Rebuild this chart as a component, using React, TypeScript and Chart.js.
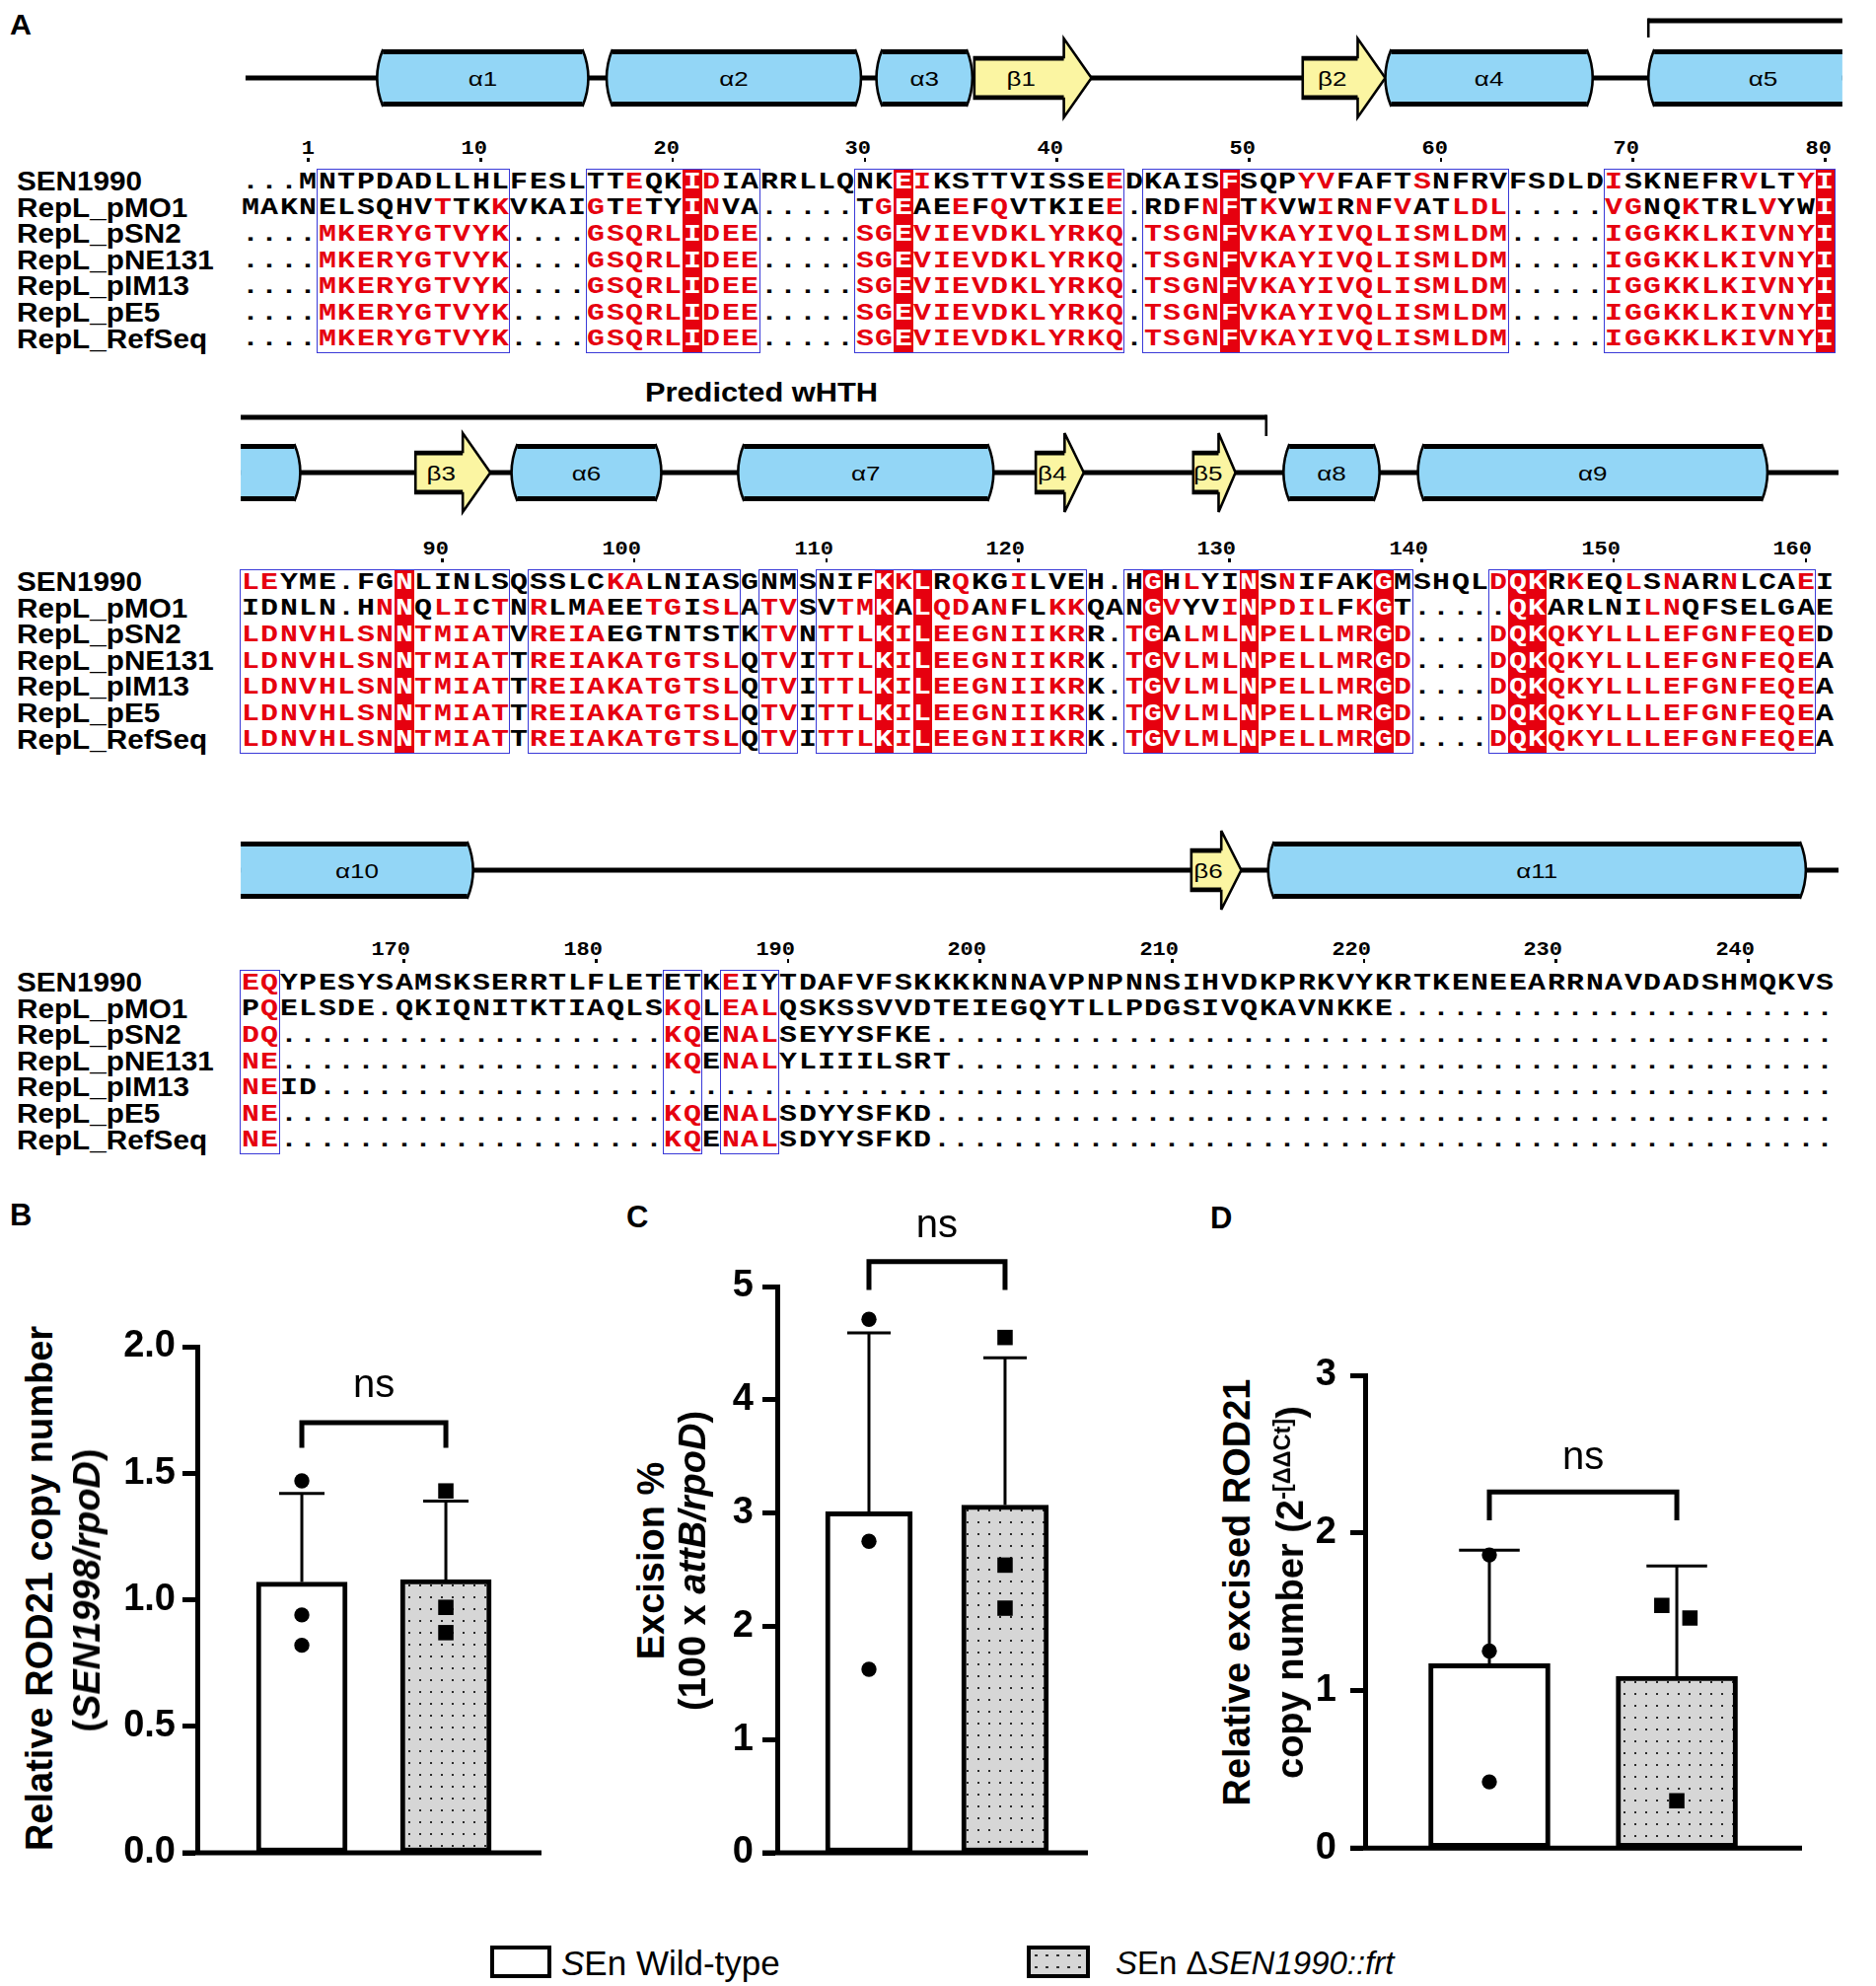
import React, { useEffect, useRef } from "react";
import { Chart, registerables } from "chart.js";

Chart.register(...registerables);

/* ======================= Panel A : alignment data ======================= */
const SEQ_NAMES = ["SEN1990", "RepL_pMO1", "RepL_pSN2", "RepL_pNE131", "RepL_pIM13", "RepL_pE5", "RepL_RefSeq"];

const BLOCK1_SEQS = [
  "...MNTPDADLLHLFESLTTEQKIDIARRLLQNKEIKSTTVISSEEDKAISFSQPYVFAFTSNFRVFSDLDISKNEFRVLTYI",
  "MAKNELSQHVTTKKVKAIGTETYINVA.....TGEAEEFQVTKIEE.RDFNFTKVWIRNFVATLDL.....VGNQKTRLVYWI",
  "....MKERYGTVYK....GSQRLIDEE.....SGEVIEVDKLYRKQ.TSGNFVKAYIVQLISMLDM.....IGGKKLKIVNYI",
  "....MKERYGTVYK....GSQRLIDEE.....SGEVIEVDKLYRKQ.TSGNFVKAYIVQLISMLDM.....IGGKKLKIVNYI",
  "....MKERYGTVYK....GSQRLIDEE.....SGEVIEVDKLYRKQ.TSGNFVKAYIVQLISMLDM.....IGGKKLKIVNYI",
  "....MKERYGTVYK....GSQRLIDEE.....SGEVIEVDKLYRKQ.TSGNFVKAYIVQLISMLDM.....IGGKKLKIVNYI",
  "....MKERYGTVYK....GSQRLIDEE.....SGEVIEVDKLYRKQ.TSGNFVKAYIVQLISMLDM.....IGGKKLKIVNYI",
];
const BLOCK1_BOXES = [[4, 13], [18, 26], [32, 45], [47, 65], [71, 82]];
const BLOCK1_HIGHLIGHT = [23, 34, 51, 82];
const BLOCK1_RED = [
  [20, 24, 35, 45, 55, 56, 61, 71, 78, 81],
  [10, 13, 18, 20, 24, 33, 37, 39, 45, 50, 53, 56, 58, 60, 63, 64, 65, 71, 72, 75, 79],
  null, null, null, null, null,
];
const BLOCK1_BOX_BLACK = [[], [], [], [], [], [], []];
const BLOCK1_SS = [
  ["H", "α1", 7.1, 18.1],
  ["H", "α2", 19.05, 32.3],
  ["H", "α3", 33.1, 38.1],
  ["E", "β1", 38.2, 44.3],
  ["E", "β2", 55.3, 59.6],
  ["H", "α4", 59.6, 70.4],
  ["H", "α5", 73.3, 83.4],
];
const BLOCK1_LINE = [0.25, 83.4];

const BLOCK2_SEQS = [
  "LEYME.FGNLINLSQSSLCKALNIASGNMSNIFKKLRQKGILVEH.HGHLYINSNIFAKGMSHQLDQKRKEQLSNARNLCAEI",
  "IDNLN.HNNQLICTNRLMAEETGISLATVSVTMKALQDANFLKKQANGVYVINPDILFKGT.....QKARLNILNQFSELGAE",
  "LDNVHLSNNTMIATVREIAEGTNTSTKTVNTTLKILEEGNIIKRR.TGALMLNPELLMRGD....DQKQKYLLLEFGNFEQED",
  "LDNVHLSNNTMIATTREIAKATGTSLQTVITTLKILEEGNIIKRK.TGVLMLNPELLMRGD....DQKQKYLLLEFGNFEQEA",
  "LDNVHLSNNTMIATTREIAKATGTSLQTVITTLKILEEGNIIKRK.TGVLMLNPELLMRGD....DQKQKYLLLEFGNFEQEA",
  "LDNVHLSNNTMIATTREIAKATGTSLQTVITTLKILEEGNIIKRK.TGVLMLNPELLMRGD....DQKQKYLLLEFGNFEQEA",
  "LDNVHLSNNTMIATTREIAKATGTSLQTVITTLKILEEGNIIKRK.TGVLMLNPELLMRGD....DQKQKYLLLEFGNFEQEA",
];
const BLOCK2_BOXES = [[0, 13], [15, 25], [27, 28], [30, 43], [46, 60], [65, 81]];
const BLOCK2_HIGHLIGHT = [8, 33, 35, 47, 52, 59, 66, 67];
const BLOCK2_RED = [
  [0, 1, 19, 20, 34, 37, 40, 49, 54, 65, 69, 72, 74, 77, 81],
  [7, 10, 11, 13, 15, 18, 21, 22, 24, 25, 27, 28, 31, 32, 36, 37, 39, 42, 43, 48, 51, 53, 54, 55, 56, 58, 73, 74],
  null, null, null, null, null,
];
const BLOCK2_BOX_BLACK = [[], [], [19, 20, 21, 22, 23, 24, 25, 48], [], [], [], []];
const BLOCK2_SS = [
  ["H", "", 0, 3.1],
  ["E", "β3", 9.1, 13.0],
  ["H", "α6", 14.1, 21.9],
  ["H", "α7", 25.9, 39.2],
  ["E", "β4", 41.4, 43.9],
  ["E", "β5", 49.6, 51.8],
  ["H", "α8", 54.3, 59.3],
  ["H", "α9", 61.3, 79.5],
];
const BLOCK2_LINE = [0, 83.2];

const BLOCK3_SEQS = [
  "EQYPESYSAMSKSERRTLFLETETKEIYTDAFVFSKKKKNNAVPNPNNSIHVDKPRKVYKRTKENEEARRNAVDADSHMQKVS",
  "PQELSDE.QKIQNITKTIAQLSKQLEALQSKSSVVDTEIEGQYTLLPDGSIVQKAVNKKE".padEnd(83, "."),
  "DQ....................KQENALSEYYSFKE".padEnd(83, "."),
  "NE....................KQENALYLIIILSRT".padEnd(83, "."),
  "NEID".padEnd(83, "."),
  "NE....................KQENALSDYYSFKD".padEnd(83, "."),
  "NE....................KQENALSDYYSFKD".padEnd(83, "."),
];
const BLOCK3_BOXES = [[0, 1], [22, 23], [25, 27]];
const BLOCK3_HIGHLIGHT: number[] = [];
const BLOCK3_RED = [[0, 1, 25], [1, 22, 23, 25, 26, 27], null, null, null, null, null];
const BLOCK3_BOX_BLACK = [[], [], [], [], [], [], []];
const BLOCK3_SS = [
  ["H", "α10", 0, 12.1],
  ["E", "β6", 49.5, 52.1],
  ["H", "α11", 53.5, 81.5],
];
const BLOCK3_LINE = [0, 83.2];

const WHTH_LABEL = "Predicted wHTH";
const WHTH_SPAN = [[0, 73.3], [1, 53.4]]; // [block, column edge] start / end

const BLOCKS = [
  { seqs: BLOCK1_SEQS, boxes: BLOCK1_BOXES, hl: BLOCK1_HIGHLIGHT, red: BLOCK1_RED, black: BLOCK1_BOX_BLACK, ss: BLOCK1_SS, line: BLOCK1_LINE },
  { seqs: BLOCK2_SEQS, boxes: BLOCK2_BOXES, hl: BLOCK2_HIGHLIGHT, red: BLOCK2_RED, black: BLOCK2_BOX_BLACK, ss: BLOCK2_SS, line: BLOCK2_LINE },
  { seqs: BLOCK3_SEQS, boxes: BLOCK3_BOXES, hl: BLOCK3_HIGHLIGHT, red: BLOCK3_RED, black: BLOCK3_BOX_BLACK, ss: BLOCK3_SS, line: BLOCK3_LINE },
];

/* ======================= Panels B-D data ======================= */
const GROUP_X = [1, 2];
const LEGEND_WT = "Wild-type";
const LEGEND_KO = "SEN1990::frt";

const B_MEAN = [1.07, 1.08];
const B_SD = [0.35, 0.31];
const B_WT = [1.47, 0.94, 0.82];
const B_KO = [1.43, 0.97, 0.87];
const B_NS = [1.70, 1.60, 1.84];

const C_MEAN = [3.01, 3.07];
const C_SD = [1.58, 1.30];
const C_WT = [4.71, 2.75, 1.62];
const C_KO = [4.55, 2.54, 2.16];
const C_NS = [5.22, 4.97, 5.52];

const D_MEAN = [1.17, 1.09];
const D_SD = [0.72, 0.70];
const D_WT = [1.86, 1.25, 0.42];
const D_KO = [1.54, 1.46, 0.30];
const D_KO_X = [1.92, 2.07, 2.0];
const D_NS = [2.26, 2.08, 2.47];

/* ======================= styling / layout ======================= */
const RED = "#e6000f";
const BLUE = "#3a3ad8";
const HELIX = "#93d6f6";
const STRAND = "#fbf5a2";
const CW = 19.47;
const COL0 = 244.07;
const ROW_H = 26.6;
const BLOCK_Y = [185, 591, 997];
const STRUCT_Y = [79, 479, 882];
const SEQ_FONT = '700 23px "Liberation Mono", "DejaVu Sans Mono", monospace';
const SEQ_SX = 1.3;
const RULER_FONT = '700 20px "Liberation Mono", "DejaVu Sans Mono", monospace';
const RULER_SX = 1.1;
const NAME_FONT = '700 27px "Liberation Sans", Arial, sans-serif';
const NAME_SX = 1.1;
const SANS = '"Liberation Sans", Arial, Helvetica, sans-serif';
const colL = (c: number) => COL0 + c * CW;

function Alignment() {
  const out: any[] = [];
  let res = 1;
  const digitHalf = (0.6 * 20 * RULER_SX) / 2;
  BLOCKS.forEach((b: any, bi: number) => {
    const y0 = BLOCK_Y[bi];
    const last = y0 + (b.seqs.length - 1) * ROW_H;
    const bt = y0 - 14;
    const bb = last + 13;
    b.hl.forEach((c: number) =>
      out.push(
        <div key={`h${bi}-${c}`} style={{ position: "absolute", left: colL(c), top: bt, width: CW + 0.4, height: bb - bt, background: RED }} />
      )
    );
    b.boxes.forEach(([c0, c1]: number[], k: number) =>
      out.push(
        <div
          key={`b${bi}-${k}`}
          style={{ position: "absolute", left: colL(c0) - 0.8, top: bt, width: (c1 - c0 + 1) * CW + 1.6, height: bb - bt, border: `1.6px solid ${BLUE}`, boxSizing: "border-box" }}
        />
      )
    );
    // ruler (numbering of the first sequence)
    const sen = b.seqs[0];
    for (let c = 0; c < sen.length; c++) {
      if (sen[c] === ".") continue;
      if (res === 1 || res % 10 === 0) {
        const xc = colL(c) + CW / 2;
        out.push(
          <div
            key={`n${bi}-${c}`}
            style={{ position: "absolute", left: xc + digitHalf - 100, width: 100, top: y0 - 46, height: 24, lineHeight: "24px", textAlign: "right", font: RULER_FONT, transform: `scaleX(${RULER_SX})`, transformOrigin: "right center", whiteSpace: "nowrap" }}
          >
            {res}
          </div>
        );
        out.push(<div key={`t${bi}-${c}`} style={{ position: "absolute", left: xc - 1.3, top: y0 - 25, width: 2.6, height: 4, background: "#000" }} />);
      }
      res++;
    }
    b.seqs.forEach((s: string, r: number) => {
      const y = y0 + r * ROW_H;
      out.push(
        <div
          key={`nm${bi}-${r}`}
          style={{ position: "absolute", left: 17, top: y - 16, height: 32, lineHeight: "32px", font: NAME_FONT, transform: `scaleX(${NAME_SX})`, transformOrigin: "left center", whiteSpace: "nowrap" }}
        >
          {SEQ_NAMES[r]}
        </div>
      );
      for (let c = 0; c < s.length; c++) {
        const ch = s[c];
        const hl = ch !== "." && b.hl.includes(c);
        let red = false;
        if (ch !== ".") {
          const spec = b.red[r];
          if (spec) red = spec.includes(c);
          else red = b.boxes.some(([a, z]: number[]) => c >= a && c <= z) && !b.black[r].includes(c);
        }
        out.push(
          <div
            key={`c${bi}-${r}-${c}`}
            style={{ position: "absolute", left: colL(c), top: y - ROW_H / 2, width: CW, height: ROW_H, lineHeight: `${ROW_H}px`, textAlign: "center", font: SEQ_FONT, color: hl ? "#fff" : red ? RED : "#000" }}
          >
            <span style={{ display: "inline-block", transform: `scaleX(${SEQ_SX})` }}>{ch}</span>
          </div>
        );
      }
    });
  });
  return <>{out}</>;
}

function Structure() {
  const els: any[] = [];
  BLOCKS.forEach((b: any, bi: number) => {
    const cy = STRUCT_Y[bi];
    els.push(<line key={`ln${bi}`} x1={colL(b.line[0])} x2={colL(b.line[1])} y1={cy} y2={cy} stroke="#000" strokeWidth={5} />);
    b.ss.forEach(([t, lab, s, e]: any[], k: number) => {
      const x1 = colL(s);
      const x2 = colL(e);
      const cutL = s <= 0;
      const cutR = e >= 83;
      const key = `ss${bi}-${k}`;
      if (t === "H") {
        const top = cy - 29;
        const bot = cy + 29;
        const r = 6;
        const a = cutL ? x1 : x1 + r;
        const z = cutR ? x2 : x2 - r;
        let d = `M${a},${top} L${z},${top} `;
        d += cutR ? `L${z},${bot} ` : `Q${x2 + r},${cy} ${z},${bot} `;
        d += `L${a},${bot} `;
        d += cutL ? "Z" : `Q${x1 - r},${cy} ${a},${top} Z`;
        els.push(<path key={key + "f"} d={d} fill={HELIX} stroke="none" />);
        if (!cutR) els.push(<path key={key + "r"} d={`M${z},${top} Q${x2 + r},${cy} ${z},${bot}`} fill="none" stroke="#000" strokeWidth={2.6} />);
        if (!cutL) els.push(<path key={key + "l"} d={`M${a},${top} Q${x1 - r},${cy} ${a},${bot}`} fill="none" stroke="#000" strokeWidth={2.6} />);
        els.push(<line key={key + "t"} x1={a} x2={z} y1={top + 2.5} y2={top + 2.5} stroke="#000" strokeWidth={5} />);
        els.push(<line key={key + "b"} x1={a} x2={z} y1={bot - 2.5} y2={bot - 2.5} stroke="#000" strokeWidth={5} />);
        if (lab)
          els.push(
            <text key={key + "x"} x={0} y={0} transform={`translate(${cutR ? (x1 + x2) / 2 + 18 : (x1 + x2) / 2},${cy + 1}) scale(1.3,1)`} textAnchor="middle" dominantBaseline="central" fontSize={20} fontFamily={SANS}>
              {lab}
            </text>
          );
      } else {
        const hlen = Math.min(28, (x2 - x1) * 0.4);
        const hb = x2 - hlen;
        const pts = `${x1},${cy - 21} ${hb},${cy - 21} ${hb},${cy - 40} ${x2},${cy} ${hb},${cy + 40} ${hb},${cy + 21} ${x1},${cy + 21}`;
        els.push(<polygon key={key + "p"} points={pts} fill={STRAND} stroke="#000" strokeWidth={2.6} strokeLinejoin="miter" />);
        els.push(<line key={key + "t"} x1={x1} x2={hb} y1={cy - 19.5} y2={cy - 19.5} stroke="#000" strokeWidth={4} />);
        els.push(<line key={key + "b"} x1={x1} x2={hb} y1={cy + 19.5} y2={cy + 19.5} stroke="#000" strokeWidth={4} />);
        els.push(
          <text key={key + "x"} x={0} y={0} transform={`translate(${(x1 + hb) / 2 + 2},${cy + 1}) scale(1.3,1)`} textAnchor="middle" dominantBaseline="central" fontSize={20} fontFamily={SANS}>
            {lab}
          </text>
        );
      }
    });
  });
  // predicted wHTH bracket
  const [sb, sc] = WHTH_SPAN[0];
  const [eb, ec] = WHTH_SPAN[1];
  const ys = STRUCT_Y[sb] - 58;
  const ye = STRUCT_Y[eb] - 56;
  els.push(<line key="w1" x1={colL(sc)} x2={colL(BLOCK1_LINE[1])} y1={ys} y2={ys} stroke="#000" strokeWidth={5} />);
  els.push(<line key="w2" x1={colL(sc)} x2={colL(sc)} y1={ys - 2.5} y2={ys + 17} stroke="#000" strokeWidth={2.6} />);
  els.push(<line key="w3" x1={colL(0)} x2={colL(ec)} y1={ye} y2={ye} stroke="#000" strokeWidth={5} />);
  els.push(<line key="w4" x1={colL(ec)} x2={colL(ec)} y1={ye - 2.5} y2={ye + 19} stroke="#000" strokeWidth={2.6} />);
  els.push(
    <text key="w5" x={0} y={0} transform={`translate(772,${ye - 26}) scale(1.1,1)`} textAnchor="middle" dominantBaseline="central" fontSize={28} fontWeight={700} fontFamily={SANS}>
      {WHTH_LABEL}
    </text>
  );
  return (
    <svg width={1902} height={940} style={{ position: "absolute", left: 0, top: 0 }}>
      {els}
    </svg>
  );
}

/* ======================= Bar panels ======================= */
function makeDots() {
  const c = document.createElement("canvas");
  c.width = 11;
  c.height = 12;
  const g = c.getContext("2d")!;
  g.fillStyle = "#d6d6d6";
  g.fillRect(0, 0, 11, 12);
  g.fillStyle = "#2a2a2a";
  g.fillRect(5, 6, 2, 2);
  return g.createPattern(c, "repeat");
}

const PANELS = [
  { key: "B", mean: B_MEAN, sd: B_SD, wt: B_WT, ko: B_KO, koX: null, ns: B_NS, yMax: 2, step: 0.5, dec: 1,
    g: { cx: 90, cy: 1300, cw: 480, ch: 610, left: 200, right: 549, top: 1365, bottom: 1878, xMin: 0.274, xMax: 2.664, barW: 92, pad: 7 } },
  { key: "C", mean: C_MEAN, sd: C_SD, wt: C_WT, ko: C_KO, koX: null, ns: C_NS, yMax: 5, step: 1, dec: 0,
    g: { cx: 700, cy: 1200, cw: 420, ch: 710, left: 788, right: 1103, top: 1304, bottom: 1878, xMin: 0.326, xMax: 2.609, barW: 88, pad: 9 } },
  { key: "D", mean: D_MEAN, sd: D_SD, wt: D_WT, ko: D_KO, koX: D_KO_X, ns: D_NS, yMax: 3, step: 1, dec: 0,
    g: { cx: 1300, cy: 1350, cw: 550, ch: 560, left: 1384, right: 1827, top: 1394, bottom: 1878, xMin: 0.337, xMax: 2.668, barW: 123, pad: 14 } },
];

const TICK_LEN = 15;

function BarPanel({ p }: any) {
  const ref = useRef<HTMLCanvasElement>(null);
  const g = p.g;
  useEffect(() => {
    const canvas = ref.current!;
    const pattern = makeDots();
    const deco = {
      id: "deco" + p.key,
      afterDatasetDraw(chart: any, args: any) {
        if (args.index !== 0) return;
        const { ctx } = chart;
        const x = chart.scales.x;
        const y = chart.scales.y;
        ctx.save();
        ctx.strokeStyle = "#000";
        ctx.lineWidth = 3;
        p.mean.forEach((m: number, i: number) => {
          const px = x.getPixelForValue(GROUP_X[i]);
          const y0 = y.getPixelForValue(m);
          const y1 = y.getPixelForValue(m + p.sd[i]);
          const half = g.barW / 4;
          ctx.beginPath();
          ctx.moveTo(px, y0);
          ctx.lineTo(px, y1);
          ctx.moveTo(px - half, y1);
          ctx.lineTo(px + half, y1);
          ctx.stroke();
        });
        ctx.restore();
      },
      afterDraw(chart: any) {
        const { ctx, chartArea } = chart;
        const x = chart.scales.x;
        const y = chart.scales.y;
        ctx.save();
        ctx.strokeStyle = "#000";
        ctx.lineWidth = 5;
        ctx.beginPath();
        ctx.moveTo(chartArea.left - TICK_LEN, chartArea.bottom);
        ctx.lineTo(chartArea.right, chartArea.bottom);
        ctx.stroke();
        const x1 = x.getPixelForValue(GROUP_X[0]);
        const x2 = x.getPixelForValue(GROUP_X[1]);
        const yb = y.getPixelForValue(p.ns[0]);
        const yl = y.getPixelForValue(p.ns[1]);
        const yt = y.getPixelForValue(p.ns[2]);
        ctx.lineWidth = 5;
        ctx.lineJoin = "miter";
        ctx.beginPath();
        ctx.moveTo(x1, yl);
        ctx.lineTo(x1, yb);
        ctx.lineTo(x2, yb);
        ctx.lineTo(x2, yl);
        ctx.stroke();
        ctx.fillStyle = "#000";
        ctx.font = `40px ${SANS}`;
        ctx.textAlign = "center";
        ctx.textBaseline = "alphabetic";
        ctx.fillText("ns", (x1 + x2) / 2, yt + 10);
        ctx.restore();
      },
    };
    const chart = new Chart(canvas, {
      type: "bar",
      data: {
        datasets: [
          {
            type: "bar",
            data: GROUP_X.map((gx, i) => ({ x: gx, y: p.mean[i] })),
            backgroundColor: ["#ffffff", pattern as any],
            borderColor: "#000",
            borderWidth: 5,
            borderSkipped: false,
            barThickness: g.barW,
            order: 3,
          } as any,
          {
            type: "scatter",
            data: p.wt.map((v: number) => ({ x: GROUP_X[0], y: v })),
            pointStyle: "circle",
            pointRadius: 7.7,
            backgroundColor: "#000",
            borderColor: "#000",
            borderWidth: 0,
            order: 1,
          } as any,
          {
            type: "scatter",
            data: p.ko.map((v: number, i: number) => ({ x: p.koX ? p.koX[i] : GROUP_X[1], y: v })),
            pointStyle: "rect",
            pointRadius: 11,
            backgroundColor: "#000",
            borderColor: "#000",
            borderWidth: 0,
            order: 1,
          } as any,
        ],
      },
      options: {
        responsive: false,
        animation: false,
        devicePixelRatio: 1,
        events: [],
        layout: {
          autoPadding: false,
          padding: { left: 0, right: g.cx + g.cw - g.right, top: g.top - g.cy, bottom: g.cy + g.ch - g.bottom },
        },
        plugins: { legend: { display: false }, tooltip: { enabled: false }, title: { display: false } },
        scales: {
          x: {
            type: "linear",
            min: g.xMin,
            max: g.xMax,
            offset: false,
            grid: { display: false },
            ticks: { display: false },
            border: { display: false },
            afterFit: (s: any) => { s.height = 0; },
          },
          y: {
            type: "linear",
            min: 0,
            max: p.yMax,
            ticks: {
              stepSize: p.step,
              color: "#000",
              padding: g.pad,
              font: { family: SANS, size: 38, weight: "bold" },
              callback: (v: any) => Number(v).toFixed(p.dec),
            },
            grid: { display: true, drawOnChartArea: false, drawTicks: true, tickLength: TICK_LEN, tickWidth: 5, tickColor: "#000" },
            border: { display: true, color: "#000", width: 5 },
            afterFit: (s: any) => { s.width = g.left - g.cx; },
          },
        },
      } as any,
      plugins: [deco],
    });
    return () => chart.destroy();
  }, []);
  return (
    <canvas
      ref={ref}
      width={g.cw}
      height={g.ch}
      style={{ position: "absolute", left: g.cx, top: g.cy, width: g.cw, height: g.ch }}
    />
  );
}

function VTitle({ x, y, children }: any) {
  return (
    <div
      style={{
        position: "absolute",
        left: x,
        top: y,
        transform: "translate(-50%,-50%) rotate(-90deg)",
        whiteSpace: "nowrap",
        font: `700 38px ${SANS}`,
        lineHeight: "42px",
        color: "#000",
      }}
    >
      {children}
    </div>
  );
}

function Letter({ x, y, size, sx, children }: any) {
  return (
    <div
      style={{
        position: "absolute",
        left: x,
        top: y,
        font: `700 ${size}px ${SANS}`,
        lineHeight: 1,
        transform: `scaleX(${sx || 1})`,
        transformOrigin: "left top",
      }}
    >
      {children}
    </div>
  );
}

export default function App() {
  return (
    <div
      style={{
        position: "absolute",
        left: 0,
        top: 0,
        width: 1902,
        height: 2013,
        background: "#fff",
        overflow: "hidden",
        fontFamily: SANS,
        color: "#000",
      }}
    >
      <Letter x={10} y={11} size={29} sx={1.05}>A</Letter>
      <Structure />
      <Alignment />

      {PANELS.map((p) => (
        <BarPanel key={p.key} p={p} />
      ))}

      <Letter x={10} y={1216} size={31}>B</Letter>
      <Letter x={635} y={1218} size={31}>C</Letter>
      <Letter x={1227} y={1219} size={31}>D</Letter>

      <VTitle x={40} y={1610}>Relative ROD21 copy number</VTitle>
      <VTitle x={88} y={1612}>
        (<i>SEN1998/rpoD</i>)
      </VTitle>

      <VTitle x={660} y={1582}>Excision %</VTitle>
      <VTitle x={702} y={1582}>
        (100 x <i>attB/rpoD</i>)
      </VTitle>

      <VTitle x={1254} y={1614}>Relative excised ROD21</VTitle>
      <VTitle x={1304} y={1614}>
        copy number (2<sup style={{ fontSize: "0.62em", verticalAlign: "0.55em" }}>-[ΔΔCt]</sup>)
      </VTitle>

      {/* legend */}
      <div
        style={{ position: "absolute", left: 497, top: 1972, width: 62, height: 33, border: "4px solid #000", boxSizing: "border-box", background: "#fff" }}
      />
      <div style={{ position: "absolute", left: 569, top: 1989, transform: "translateY(-50%)", font: `35px ${SANS}`, whiteSpace: "nowrap", lineHeight: 1 }}>
        <i>S</i>En {LEGEND_WT}
      </div>
      <div
        style={{
          position: "absolute",
          left: 1041,
          top: 1972,
          width: 64,
          height: 33,
          border: "4px solid #000",
          boxSizing: "border-box",
          backgroundColor: "#d6d6d6",
          backgroundImage: "radial-gradient(circle, #2a2a2a 1.1px, transparent 1.4px)",
          backgroundSize: "11px 12px",
        }}
      />
      <div style={{ position: "absolute", left: 1131, top: 1989, transform: "translateY(-50%)", font: `33px ${SANS}`, whiteSpace: "nowrap", lineHeight: 1 }}>
        <i>S</i>En Δ<i>{LEGEND_KO}</i>
      </div>
    </div>
  );
}
